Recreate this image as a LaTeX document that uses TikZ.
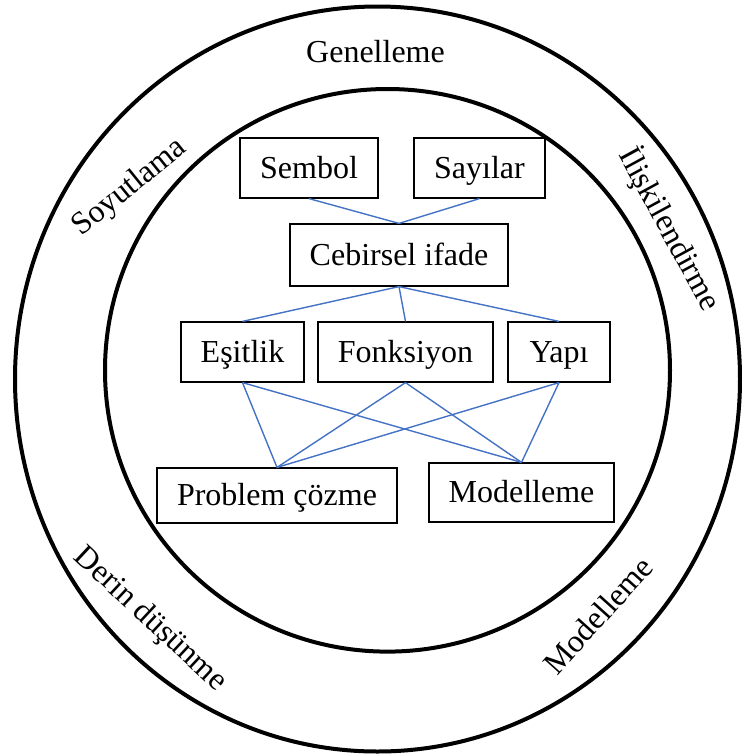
\documentclass[tikz,border=0pt]{standalone}
\usepackage{fontspec}
\setmainfont{Liberation Serif}
\definecolor{linkblue}{RGB}{68,114,196}
\begin{document}
\begin{tikzpicture}[x=1pt,y=-1pt,
  every node/.style={font=\fontsize{32}{38}\selectfont, text height=23pt, text depth=3pt, inner sep=0pt},
  box/.style={draw=black, line width=1.2pt, fill=white},
  ring/.style={draw=black, line width=4pt},
  link/.style={draw=linkblue, line width=1.4pt},
  ringlabel/.style={}]
\useasboundingbox (0,0) rectangle (742,756);

% two rings
\draw[ring] (377.5,379) ellipse [x radius=362.5, y radius=372.5];
\draw[ring] (387.5,370.3) ellipse [x radius=282.5, y radius=281.3];

% labels in the band between the rings
\node[ringlabel, anchor=base] (genel) at (375.5,62) {Genelleme};
\node[ringlabel, rotate=39] (soyut) at (128.5,186) {Soyutlama};
\node[ringlabel, rotate=-61.5] (iliski) at (670,229) {İlişkilendirme};
\node[ringlabel, rotate=-43] (derin) at (151.5,618) {Derin düşünme};
\node[ringlabel, rotate=48] (model) at (598.5,616) {Modelleme};

% concept boxes
\node[box, minimum width=138pt, minimum height=60pt] (sembol) at (309,168) {Sembol};
\node[box, minimum width=131pt, minimum height=60pt] (sayilar) at (479.5,168) {Sayılar};
\node[box, minimum width=218pt, minimum height=62pt] (cebir) at (399,255) {Cebirsel ifade};
\node[box, minimum width=123pt, minimum height=60pt] (esit) at (242.5,352) {Eşitlik};
\node[box, minimum width=175pt, minimum height=60pt] (fonk) at (405.5,352) {Fonksiyon};
\node[box, minimum width=102pt, minimum height=60pt] (yapi) at (559,352) {Yapı};
\node[box, minimum width=240pt, minimum height=55pt] (prob) at (277,495.5) {Problem çözme};
\node[box, minimum width=185pt, minimum height=59pt] (modbox) at (521.5,492.5) {Modelleme};

% links
\draw[link] (sembol.south) -- (cebir.north);
\draw[link] (sayilar.south) -- (cebir.north);
\foreach \t in {esit,fonk,yapi}{
  \draw[link] (cebir.south) -- (\t.north);
  \draw[link] (\t.south) -- (prob.north);
  \draw[link] (\t.south) -- (modbox.north);
}
\end{tikzpicture}
\end{document}
